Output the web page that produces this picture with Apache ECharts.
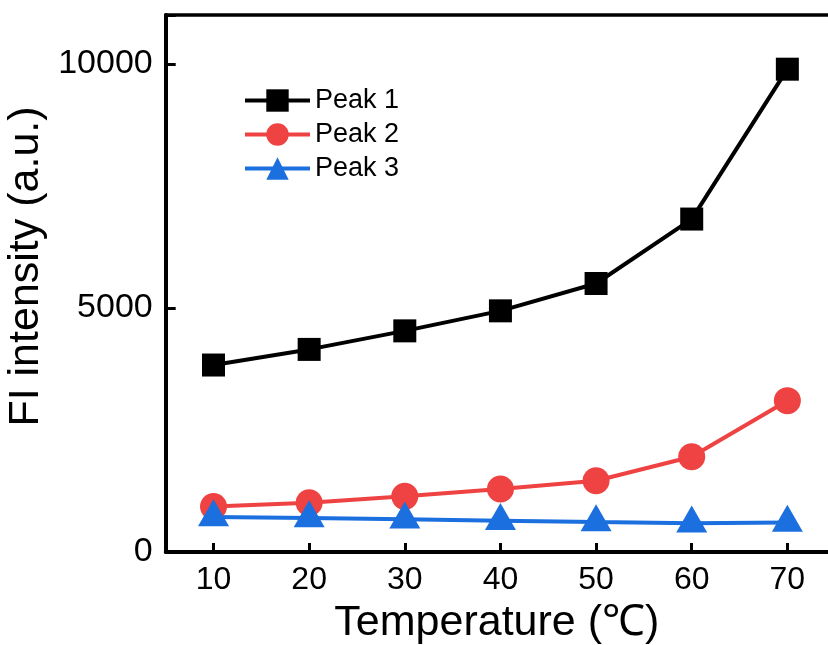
<!DOCTYPE html>
<html>
<head>
<meta charset="utf-8">
<script src="https://cdn.jsdelivr.net/npm/echarts@6/dist/echarts.min.js"></script>
<style>
  html, body { margin: 0; padding: 0; background: #fff; }
  #chart { width: 828px; height: 645px; }
</style>
</head>
<body>
<div id="chart"></div>
<script>
var temps = [10, 20, 30, 40, 50, 60, 70];
var peak1 = [3830, 4150, 4530, 4940, 5500, 6820, 9890];
var peak2 = [930, 1010, 1140, 1290, 1460, 1950, 3100];
var peak3 = [716, 695, 670, 640, 612, 590, 605];
var xTicks = [10, 20, 30, 40, 50, 60, 70];

function pairs(xs, ys) {
    return xs.map(function (x, i) { return [x, ys[i]]; });
}

var chart = echarts.init(document.getElementById('chart'));
var font = 'Liberation Sans, Arial, sans-serif';

var option = {
    backgroundColor: '#fff',
    animation: false,
    grid: {
        left: 165.7,
        right: 0,
        top: 15,
        bottom: 93,
        outerBoundsMode: 'none'
    },
    legend: {
        left: 243,
        top: 87,
        padding: 0,
        orient: 'vertical',
        itemWidth: 65,
        itemHeight: 28,
        itemGap: 7,
        lineStyle: { width: 4 },
        textStyle: { fontFamily: font, fontSize: 27, color: '#000' },
        data: ['Peak 1', 'Peak 2', 'Peak 3']
    },
    xAxis: [{
        type: 'value',
        min: 5,
        max: 74.25,
        name: 'Temperature (℃)',
        nameLocation: 'middle',
        nameGap: 50,
        nameTextStyle: { fontFamily: font, fontSize: 43, color: '#000' },
        splitLine: { show: false },
        axisLine: { lineStyle: { color: '#000', width: 4 } },
        axisTick: {
            inside: true, length: 9, customValues: xTicks,
            lineStyle: { color: '#000', width: 3 }
        },
        axisLabel: {
            customValues: xTicks, margin: 12,
            fontFamily: font, fontSize: 32, color: '#000'
        }
    }, {
        type: 'value',
        position: 'top',
        min: 5,
        max: 74.25,
        splitLine: { show: false },
        axisLine: { lineStyle: { color: '#000', width: 3.5 } },
        axisTick: { show: false },
        axisLabel: { show: false }
    }],
    yAxis: {
        type: 'value',
        min: 0,
        max: 11000,
        interval: 5000,
        name: 'FI intensity (a.u.)',
        nameLocation: 'middle',
        nameGap: 107,
        nameTextStyle: {
            fontFamily: font, fontSize: 43, color: '#000',
            padding: [0, 0, 0, 34]
        },
        splitLine: { show: false },
        axisLine: { show: true, lineStyle: { color: '#000', width: 4 } },
        axisTick: { inside: true, length: 10, lineStyle: { color: '#000', width: 3 } },
        axisLabel: {
            margin: 13, fontFamily: font, fontSize: 34, color: '#000',
            formatter: function (v) { return v === 11000 ? '' : String(v); }
        }
    },
    series: [{
        name: 'Peak 1',
        type: 'line',
        data: pairs(temps, peak1),
        symbol: 'rect',
        symbolSize: 23,
        color: '#000',
        itemStyle: { color: '#000' },
        lineStyle: { color: '#000', width: 4 }
    }, {
        name: 'Peak 2',
        type: 'line',
        data: pairs(temps, peak2),
        symbol: 'circle',
        symbolSize: 27,
        color: '#EF4242',
        itemStyle: { color: '#EF4242' },
        lineStyle: { color: '#EF4242', width: 4 }
    }, {
        name: 'Peak 3',
        type: 'line',
        data: pairs(temps, peak3),
        symbol: 'triangle',
        symbolSize: [31, 27],
        symbolOffset: [0, -4.3],
        color: '#1B6FDE',
        itemStyle: { color: '#1B6FDE' },
        lineStyle: { color: '#1B6FDE', width: 4 }
    }]
};

chart.setOption(option);
</script>
</body>
</html>
